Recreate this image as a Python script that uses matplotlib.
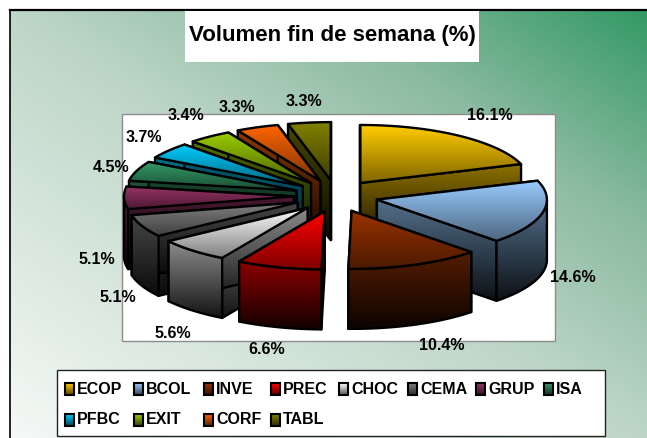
import numpy as np
import matplotlib
matplotlib.use('Agg')
import matplotlib.pyplot as plt
from matplotlib.colors import to_rgb
from matplotlib.patches import Polygon, Rectangle

plt.rcParams['font.family'] = ['Liberation Sans']

names = ['ECOP', 'BCOL', 'INVE', 'PREC', 'CHOC', 'CEMA', 'GRUP', 'ISA', 'PFBC', 'EXIT', 'CORF', 'TABL']
values = [16.1, 14.6, 10.4, 6.6, 5.6, 5.1, 5.1, 4.5, 3.7, 3.4, 3.3, 3.3]
colors = ['#FFCC00', '#99CCFF', '#993300', '#FF0000', '#FFFFFF', '#808080',
          '#993366', '#339966', '#00CCFF', '#99CC00', '#FF6600', '#808000']

# label spots in pixels, same order as values
label_x = [490, 573, 442, 267, 173, 118, 97, 111, 144, 186, 237, 304]
label_y = [116, 278, 346, 350, 333, 298, 259, 167, 137, 115, 107, 102]

cx, cy = 336, 196
rx, ry = 170, 58
ex, ey = 42, 16
depth = 60

fig = plt.figure(figsize=(6.47, 4.38), dpi=100)
ax = fig.add_axes([0, 0, 1, 1])
ax.set_xlim(0, 647)
ax.set_ylim(438, 0)
ax.axis('off')
zo = [1]


def next_z():
    zo[0] += 1
    return zo[0]


def shaded(points, c_top, c_bot):
    # polygon with a vertical gradient, black outline
    points = np.array(points)
    z = next_z()
    poly = Polygon(points, closed=True, fc='none', ec='black', lw=1.7, joinstyle='round', zorder=z + 0.5)
    ax.add_patch(poly)
    t = np.linspace(0, 1, 64)[:, None, None]
    grad = (1 - t) * np.array(c_top)[None, None, :] + t * np.array(c_bot)[None, None, :]
    im = ax.imshow(grad, extent=(points[:, 0].min(), points[:, 0].max(), points[:, 1].max(), points[:, 1].min()),
                   aspect='auto', zorder=z, interpolation='bilinear')
    im.set_clip_path(poly)


# background
yy, xx = np.mgrid[0:428, 0:637]
t = (xx / 636 + (427 - yy) / 427) / 2
stops = np.array([to_rgb('#F6F9F7'), to_rgb('#BDD6C7'), to_rgb('#8ABA9F'), to_rgb('#339966')])
bg = np.stack([np.interp(t, [0, 0.5, 0.75, 1], stops[:, i]) for i in range(3)], axis=2)
ax.imshow(bg, extent=(10, 647, 438, 10), aspect='auto', zorder=0)
ax.plot([10, 10], [438, 10], color='black', lw=1.2, zorder=1)
ax.plot([10, 647], [10, 10], color='black', lw=1.6, zorder=1)

# title and plot area
ax.add_patch(Rectangle((185, 11), 294, 51, fc='white', ec='none', zorder=1))
ax.text(332, 36, 'Volumen fin de semana (%)', fontsize=16, fontweight='bold', ha='center', va='center', zorder=50)
ax.add_patch(Rectangle((122, 114), 433, 227, fc='white', ec='#8C8C8C', lw=1, zorder=1))

# pie slices, back ones first
edges = np.cumsum([0] + values) / np.sum(values) * 360
mids = (edges[:-1] + edges[1:]) / 2
order = np.argsort(-np.cos(np.radians(mids)))

for i in order:
    a0, a1 = edges[i], edges[i + 1]
    m = np.radians(mids[i])
    ox = cx + ex * np.sin(m)
    oy = cy - ey * np.cos(m)
    base = np.array(to_rgb(colors[i]))


    def rim(a):
        a = np.radians(a)
        return np.column_stack([ox + rx * np.sin(a), oy - ry * np.cos(a)])

    arc = rim(np.linspace(a0, a1, 40))
    drop = np.array([0, depth])
    apex = np.array([ox, oy])
    wall_top, wall_bot = base * 0.55, base * 0.08

    for p in (arc[0], arc[-1]):
        shaded([apex, p, p + drop, apex + drop], wall_top, wall_bot)
    lo, hi = max(a0, 90), min(a1, 270)
    if lo < hi:
        front = rim(np.linspace(lo, hi, 40))
        shaded(np.vstack([front, front[::-1] + drop]), wall_top, wall_bot)
    shaded(np.vstack([apex, arc]), base, base * 0.5)

for v, lx, ly in zip(values, label_x, label_y):
    ax.text(lx, ly, f'{v:.1f}%', fontsize=11.5, fontweight='bold', ha='center', va='center', zorder=50)

# legend
ax.add_patch(Rectangle((57, 370), 548, 66, fc='white', ec='#222222', lw=1, zorder=40))
swatch_x = [65, 134, 204, 271, 339, 408, 476, 544, 65, 134, 204, 271]
for n, name in enumerate(names):
    sx = swatch_x[n]
    sy = 389 if n < 8 else 420
    base = np.array(to_rgb(colors[n]))
    t = np.linspace(0, 1, 16)[:, None, None]
    grad = (1 - t) * base[None, None, :] + t * (base * 0.35)[None, None, :]
    ax.imshow(grad, extent=(sx, sx + 9, sy + 6, sy - 6), aspect='auto', zorder=41)
    ax.add_patch(Rectangle((sx, sy - 6), 9, 12, fc='none', ec='black', lw=1.5, zorder=42))
    ax.text(sx + 12, sy, name, fontsize=11.5, fontweight='bold', ha='left', va='center', zorder=43)

ax.set_xlim(0, 647)
ax.set_ylim(438, 0)
fig.savefig('out.png', dpi=100)
